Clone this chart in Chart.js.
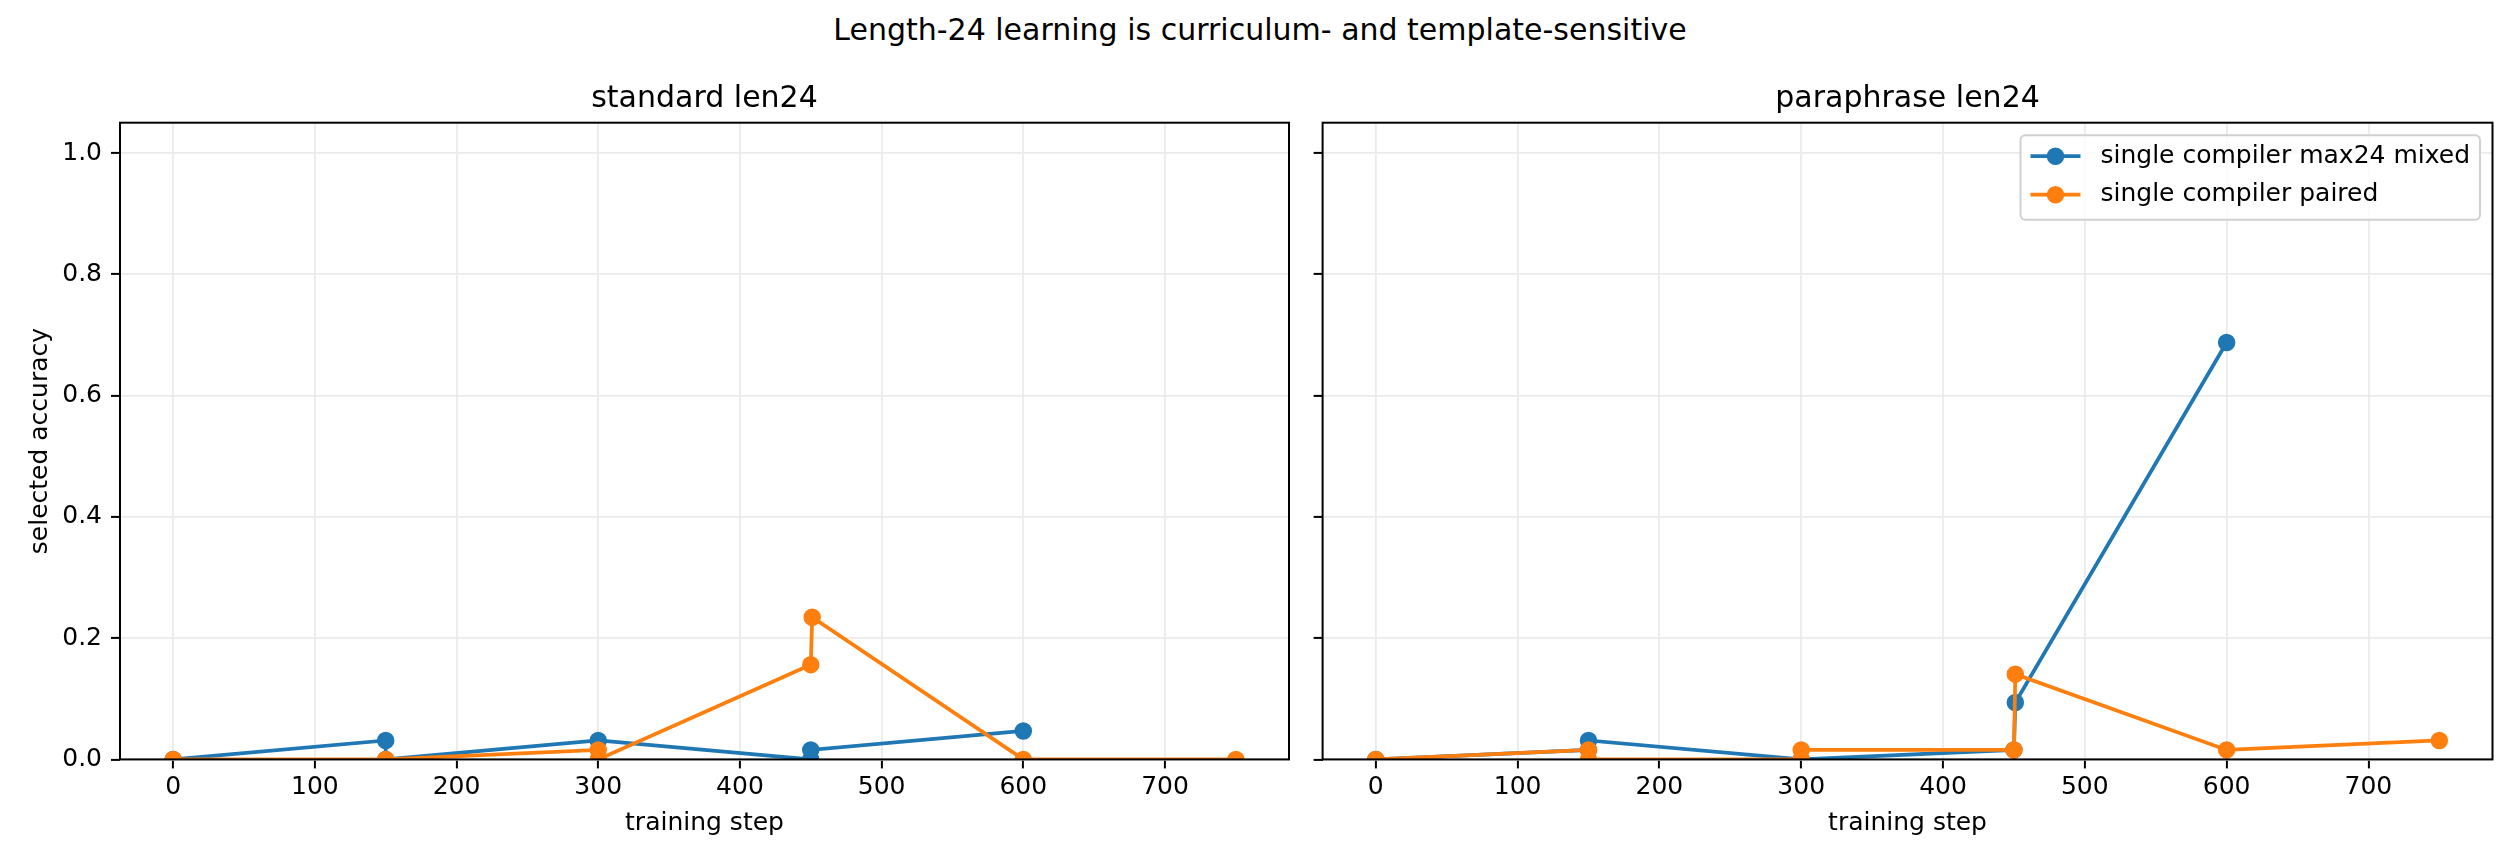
<!DOCTYPE html>
<html>
<head>
<meta charset="utf-8">
<title>Length-24 learning is curriculum- and template-sensitive</title>
<script src="https://cdn.jsdelivr.net/npm/chart.js@4.4.1/dist/chart.umd.min.js"></script>
<style>
  html, body { margin: 0; padding: 0; background: #fff; }
  #figure {
    position: relative;
    width: 2520px;
    height: 864px;
    font-family: "DejaVu Sans", sans-serif;
  }
  #suptitle {
    position: absolute;
    left: 0;
    top: 12px;
    width: 2520px;
    text-align: center;
    font-size: 30px;
    line-height: 36px;
    color: #000;
  }
  .panel { position: absolute; top: 0; height: 864px; }
  .panel canvas { display: block; }
</style>
</head>
<body>
<div id="figure">
  <div id="suptitle">Length-24 learning is curriculum- and template-sensitive</div>
  <div class="panel" style="left:0;width:1300px"><canvas id="standardChart" width="1300" height="864"></canvas></div>
  <div class="panel" style="left:1300px;width:1220px"><canvas id="paraphraseChart" width="1220" height="864"></canvas></div>
</div>

<script>
// data
const seriesNames = ['single compiler max24 mixed', 'single compiler paired'];
const stepTicks = [0, 100, 200, 300, 400, 500, 600, 700];
const accTicks = [0, 0.2, 0.4, 0.6, 0.8, 1.0];

// standard len24
const stdMixedSteps = [0, 150, 150, 300, 450, 450, 600];
const stdMixedAcc = [0, 0.03125, 0, 0.03125, 0, 0.015625, 0.046875];
const stdPairedSteps = [0, 150, 300, 300, 450, 451, 600, 750];
const stdPairedAcc = [0, 0, 0.015625, 0, 0.15625, 0.234375, 0, 0];

// paraphrase len24
const paraMixedSteps = [0, 150, 150, 300, 450, 451, 600];
const paraMixedAcc = [0, 0.015625, 0.03125, 0, 0.015625, 0.09375, 0.6875];
const paraPairedSteps = [0, 150, 150, 300, 300, 450, 451, 600, 750];
const paraPairedAcc = [0, 0.015625, 0, 0, 0.015625, 0.015625, 0.140625, 0.015625, 0.03125];

const BLUE = '#1f77b4';
const ORANGE = '#ff7f0e';
const GRID = '#ebebeb';
const FONT = '"DejaVu Sans", sans-serif';

Chart.defaults.font.family = FONT;
Chart.defaults.color = '#000';

const toPoints = (xs, ys) => xs.map((x, i) => ({ x: x, y: ys[i] }));

// black box round the plot area, like matplotlib spines
const frameBox = {
  id: 'frameBox',
  afterDatasetsDraw(chart) {
    const { ctx, chartArea: a } = chart;
    ctx.save();
    ctx.strokeStyle = '#000';
    ctx.lineWidth = 2;
    ctx.strokeRect(a.left, a.top, a.right - a.left, a.bottom - a.top);
    ctx.restore();
  }
};

// legend in the upper right corner of the plot area
const cornerLegend = {
  id: 'cornerLegend',
  afterDraw(chart, args, opts) {
    if (!opts.show) return;
    const { ctx, chartArea: a } = chart;
    const sets = chart.data.datasets;
    ctx.save();
    ctx.font = '25px ' + FONT;
    const textW = Math.max(...sets.map(d => ctx.measureText(d.label).width));
    const w = 10 + 50 + 20 + textW + 10;
    const h = 84.5;
    const x = a.right - 12.5 - w;
    const y = a.top + 12.5;
    const r = 5;
    ctx.beginPath();
    ctx.moveTo(x + r, y);
    ctx.lineTo(x + w - r, y);
    ctx.arcTo(x + w, y, x + w, y + r, r);
    ctx.lineTo(x + w, y + h - r);
    ctx.arcTo(x + w, y + h, x + w - r, y + h, r);
    ctx.lineTo(x + r, y + h);
    ctx.arcTo(x, y + h, x, y + h - r, r);
    ctx.lineTo(x, y + r);
    ctx.arcTo(x, y, x + r, y, r);
    ctx.closePath();
    ctx.fillStyle = 'rgba(255,255,255,0.8)';
    ctx.fill();
    ctx.strokeStyle = '#d0d0d0';
    ctx.lineWidth = 2;
    ctx.stroke();

    sets.forEach((d, i) => {
      const cy = y + 21 + i * 38.5;
      ctx.strokeStyle = d.borderColor;
      ctx.lineWidth = 3.75;
      ctx.beginPath();
      ctx.moveTo(x + 10, cy);
      ctx.lineTo(x + 60, cy);
      ctx.stroke();
      ctx.beginPath();
      ctx.arc(x + 35, cy, 7.5, 0, Math.PI * 2);
      ctx.fillStyle = d.borderColor;
      ctx.fill();
      ctx.lineWidth = 2.5;
      ctx.stroke();
      ctx.fillStyle = '#000';
      ctx.textBaseline = 'middle';
      ctx.textAlign = 'left';
      ctx.fillText(d.label, x + 80, cy);
    });
    ctx.restore();
  }
};

function series(label, color, pts, order) {
  return {
    label: label,
    data: pts,
    showLine: true,
    borderColor: color,
    backgroundColor: color,
    borderWidth: 3.75,
    pointRadius: 7.5,
    pointBorderWidth: 2.5,
    pointBackgroundColor: color,
    pointBorderColor: color,
    tension: 0,
    clip: 0,
    order: order
  };
}

function makePanel(id, title, mixed, paired, isLeft) {
  const ctx = document.getElementById(id).getContext('2d');
  return new Chart(ctx, {
    type: 'scatter',
    data: {
      datasets: [
        series(seriesNames[0], BLUE, mixed, 1),
        series(seriesNames[1], ORANGE, paired, 0)
      ]
    },
    plugins: [frameBox, cornerLegend],
    options: {
      responsive: false,
      animation: false,
      devicePixelRatio: 1,
      events: [],
      layout: {
        padding: { left: 0, right: isLeft ? 11 : 27.5, top: 0, bottom: 0 }
      },
      plugins: {
        legend: { display: false },
        tooltip: { enabled: false },
        title: {
          display: true,
          text: title,
          fullSize: false,
          color: '#000',
          font: { size: 30, weight: 'normal' },
          padding: { top: 81.7, bottom: 5 }
        },
        cornerLegend: { show: !isLeft }
      },
      scales: {
        x: {
          type: 'linear',
          min: -37.5,
          max: 787.5,
          afterBuildTicks: s => { s.ticks = stepTicks.map(v => ({ value: v })); },
          afterFit: s => { s.height = 104.6; },
          ticks: {
            color: '#000',
            font: { size: 25 },
            padding: 4,
            maxRotation: 0,
            callback: v => String(v)
          },
          grid: {
            color: GRID,
            lineWidth: 1.8,
            drawTicks: true,
            tickLength: 9,
            tickWidth: 2,
            tickColor: '#000'
          },
          border: { display: false },
          title: {
            display: true,
            text: 'training step',
            color: '#000',
            font: { size: 25 },
            padding: { top: 0, bottom: 25.5 }
          }
        },
        y: {
          type: 'linear',
          min: 0,
          max: 1.05,
          afterBuildTicks: s => { s.ticks = accTicks.map(v => ({ value: v })); },
          afterFit: s => { s.width = isLeft ? 120 : 22.6; },
          ticks: {
            display: isLeft,
            color: '#000',
            font: { size: 25 },
            padding: 9,
            callback: v => v.toFixed(1)
          },
          grid: {
            color: GRID,
            lineWidth: 1.8,
            drawTicks: true,
            tickLength: 9,
            tickWidth: 2,
            tickColor: '#000'
          },
          border: { display: false },
          title: {
            display: isLeft,
            text: 'selected accuracy',
            color: '#000',
            font: { size: 25 },
            padding: { top: 25, bottom: 0 }
          }
        }
      }
    }
  });
}

makePanel('standardChart', 'standard len24',
  toPoints(stdMixedSteps, stdMixedAcc), toPoints(stdPairedSteps, stdPairedAcc), true);
makePanel('paraphraseChart', 'paraphrase len24',
  toPoints(paraMixedSteps, paraMixedAcc), toPoints(paraPairedSteps, paraPairedAcc), false);
</script>
</body>
</html>
